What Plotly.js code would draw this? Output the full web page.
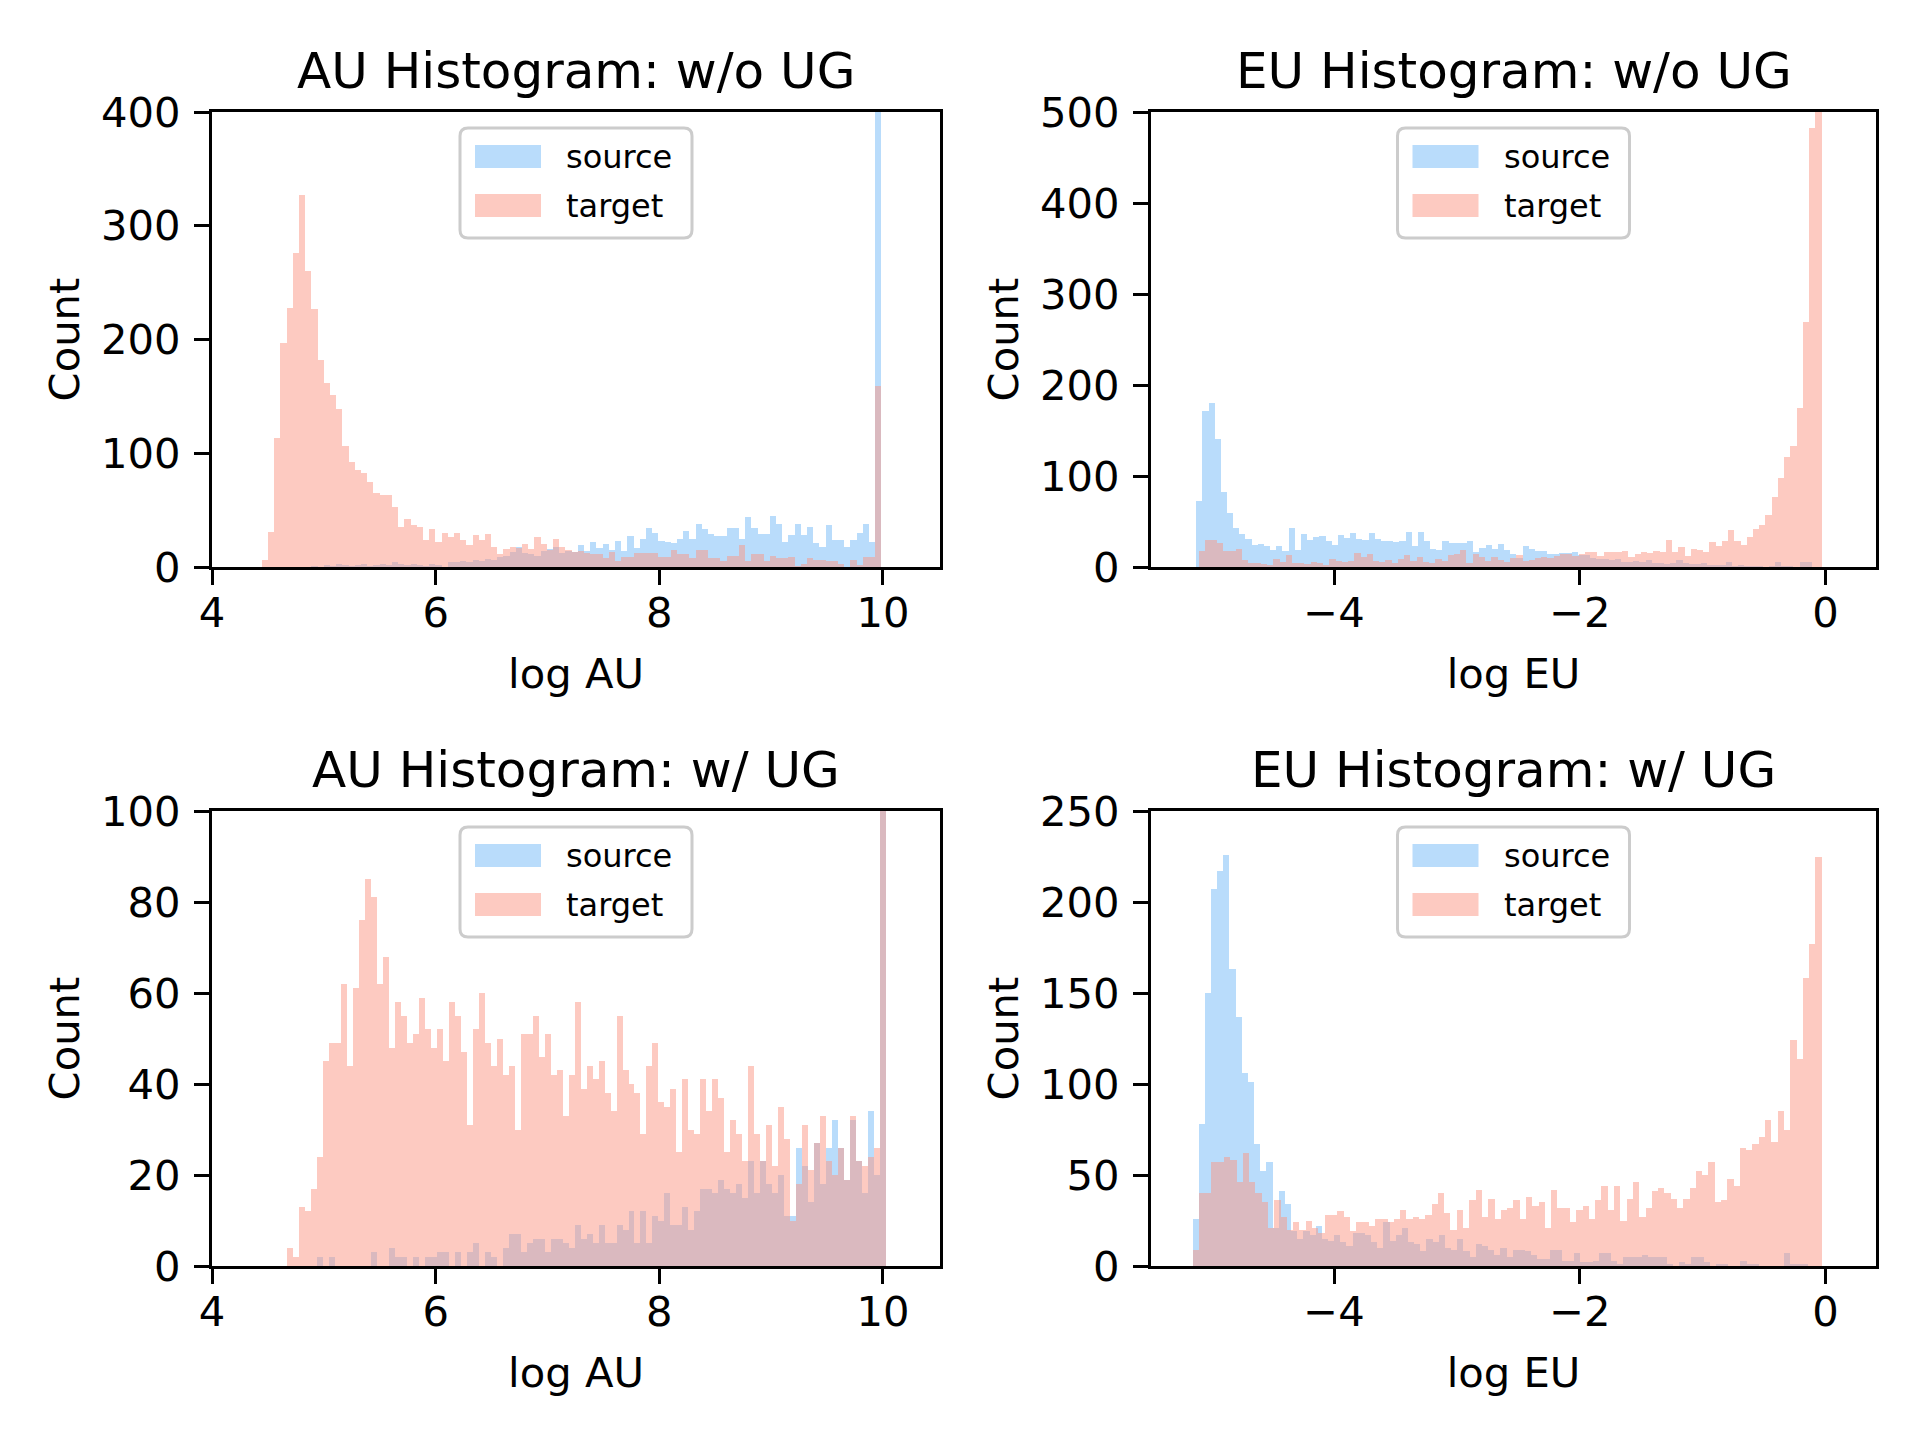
<!DOCTYPE html>
<html>
<head>
<meta charset="utf-8">
<script src="https://cdn.plot.ly/plotly-3.0.1.min.js"></script>
<style>
  html, body { margin: 0; padding: 0; background: #fff; }
  #chart { width: 1920px; height: 1440px; }
</style>
</head>
<body>
<div id="chart"></div>
<script>
// bin counts, 100 bins per histogram
const auWoSource = [
  0, 0, 0, 0, 0, 0, 0, 0, 1, 0, 2, 1, 3, 2, 1, 2, 3, 1, 2, 3,
  2, 4, 3, 2, 3, 2, 1, 3, 2, 0, 4, 4, 5, 4, 6, 5, 7, 6, 9, 10,
  13, 18, 12, 11, 10, 14, 16, 18, 12, 14, 13, 19, 14, 22, 17, 20, 15, 23, 14, 27,
  17, 25, 34, 30, 23, 22, 21, 25, 32, 25, 38, 33, 29, 27, 27, 34, 34, 25, 44, 34,
  29, 29, 45, 38, 22, 28, 38, 28, 35, 21, 18, 37, 24, 24, 18, 24, 30, 38, 22, 470
];
const auWoTarget = [
  6, 31, 113, 197, 228, 276, 327, 260, 227, 182, 162, 151, 139, 106, 92, 85, 83, 75, 65, 63,
  63, 53, 35, 42, 37, 35, 24, 33, 22, 30, 26, 30, 24, 19, 28, 24, 29, 18, 11, 16,
  18, 17, 20, 16, 26, 20, 15, 25, 18, 15, 13, 14, 12, 11, 11, 8, 13, 5, 9, 9,
  12, 12, 12, 12, 9, 9, 15, 11, 11, 8, 15, 15, 8, 8, 5, 10, 10, 19, 5, 11,
  11, 5, 10, 8, 8, 9, 1, 3, 8, 6, 6, 5, 5, 3, 0, 6, 2, 9, 9, 159
];

const euWoSource = [
  73, 171, 180, 141, 82, 59, 43, 36, 31, 24, 25, 23, 19, 23, 18, 43, 19, 36, 30, 33,
  34, 29, 24, 35, 32, 37, 31, 30, 37, 31, 29, 29, 28, 29, 38, 23, 39, 29, 20, 19,
  29, 26, 26, 26, 29, 17, 21, 24, 20, 25, 19, 14, 10, 23, 20, 18, 18, 14, 14, 15,
  15, 17, 13, 13, 10, 9, 9, 8, 9, 6, 5, 7, 5, 8, 4, 4, 3, 4, 8, 4,
  3, 3, 4, 2, 2, 2, 5, 1, 2, 1, 1, 1, 0, 1, 5, 1, 1, 0, 5, 5
];
const euWoTarget = [
  18, 30, 30, 26, 18, 18, 20, 8, 4, 4, 3, 2, 9, 6, 13, 4, 4, 3, 6, 4,
  2, 9, 7, 6, 7, 15, 11, 14, 7, 6, 8, 4, 9, 13, 7, 11, 6, 4, 9, 7,
  13, 14, 19, 4, 14, 11, 7, 11, 8, 6, 10, 13, 7, 8, 10, 11, 10, 12, 14, 14,
  12, 14, 17, 17, 12, 17, 16, 17, 18, 11, 14, 16, 15, 18, 17, 30, 17, 22, 12, 20,
  19, 17, 28, 23, 29, 41, 29, 24, 33, 42, 46, 57, 77, 98, 121, 133, 175, 269, 482, 520
];

const auWSource = [
  0, 0, 0, 0, 0, 2, 0, 2, 0, 0, 0, 0, 0, 0, 3, 0, 0, 4, 2, 2,
  0, 2, 0, 2, 2, 3, 3, 0, 3, 0, 3, 5, 0, 3, 2, 0, 4, 7, 7, 3,
  5, 6, 6, 3, 6, 6, 5, 4, 9, 6, 7, 5, 9, 5, 5, 9, 8, 12, 5, 12,
  5, 11, 10, 16, 9, 9, 13, 8, 12, 17, 17, 16, 19, 17, 16, 18, 15, 23, 16, 23,
  18, 16, 20, 11, 11, 26, 22, 14, 27, 18, 26, 32, 26, 19, 32, 23, 16, 34, 20, 130
];
const auWTarget = [
  4, 2, 13, 12, 17, 24, 45, 49, 49, 62, 44, 61, 76, 85, 81, 62, 68, 48, 58, 55,
  49, 51, 59, 52, 48, 52, 45, 58, 55, 47, 31, 52, 60, 49, 44, 50, 42, 44, 30, 51,
  51, 55, 46, 51, 42, 43, 33, 42, 58, 39, 44, 41, 45, 38, 34, 55, 43, 40, 38, 29,
  44, 49, 36, 35, 39, 25, 41, 30, 29, 41, 34, 41, 37, 25, 32, 29, 23, 44, 29, 23,
  31, 22, 35, 28, 10, 18, 31, 21, 27, 33, 23, 20, 26, 19, 33, 23, 22, 24, 26, 130
];

const euWSource = [
  26, 78, 150, 207, 217, 226, 163, 137, 106, 101, 67, 52, 57, 21, 41, 34, 19, 15, 19, 17,
  22, 15, 14, 17, 13, 11, 18, 18, 17, 13, 10, 24, 14, 17, 21, 13, 12, 8, 15, 13,
  17, 10, 9, 15, 8, 5, 12, 11, 9, 6, 10, 5, 9, 9, 8, 6, 4, 4, 9, 9,
  3, 3, 7, 2, 2, 3, 7, 7, 3, 1, 5, 5, 5, 6, 5, 5, 5, 1, 0, 2,
  1, 5, 5, 2, 0, 1, 1, 0, 0, 3, 1, 1, 0, 0, 0, 0, 7, 1, 1, 1
];
const euWTarget = [
  9, 40, 40, 57, 57, 60, 58, 46, 62, 46, 40, 35, 21, 36, 27, 20, 24, 20, 25, 21,
  18, 28, 28, 30, 27, 19, 24, 24, 22, 26, 26, 24, 26, 31, 26, 27, 26, 28, 34, 40,
  29, 20, 31, 21, 36, 42, 27, 37, 26, 31, 32, 36, 26, 38, 33, 35, 21, 42, 32, 32,
  24, 31, 33, 26, 36, 44, 31, 44, 25, 37, 46, 27, 32, 41, 43, 40, 37, 32, 37, 43,
  52, 50, 57, 35, 36, 48, 44, 65, 64, 67, 71, 80, 68, 85, 75, 124, 114, 158, 177, 225
];

// bin edges: [first edge, bin width] for each histogram
const auWoBins = { source: [4.446, 0.0554], target: [4.446, 0.0554] };
const euWoBins = { source: [-5.122, 0.0501], target: [-5.103, 0.0507] };
const auWBins = { source: [4.675, 0.0535], target: [4.675, 0.0535] };
const euWBins = { source: [-5.152, 0.0501], target: [-5.152, 0.0512] };

const panelTitles = ["AU Histogram: w/o UG", "EU Histogram: w/o UG", "AU Histogram: w/ UG", "EU Histogram: w/ UG"];
const xLabels = ["log AU", "log EU", "log AU", "log EU"];
const seriesNames = ["source", "target"];

const SOURCE_COLOR = "rgba(115, 185, 247, 0.5)";
const TARGET_COLOR = "rgba(251, 149, 131, 0.5)";
const FONT = "DejaVu Sans, sans-serif";

function binCenters(edges, count) {
  const start = edges[0];
  const width = edges[1];
  const centers = [];
  for (let i = 0; i < count; i++) {
    centers.push(start + (i + 0.5) * width);
  }
  return centers;
}

function histTraces(panel, source, target, bins) {
  const suffix = panel === 1 ? "" : String(panel);
  const common = {
    type: "bar",
    xaxis: "x" + suffix,
    yaxis: "y" + suffix,
    showlegend: false,
    hoverinfo: "x+y",
  };
  return [
    Object.assign({}, common, {
      name: seriesNames[0],
      x: binCenters(bins.source, source.length),
      y: source,
      width: bins.source[1],
      marker: { color: SOURCE_COLOR, line: { width: 0 } },
    }),
    Object.assign({}, common, {
      name: seriesNames[1],
      x: binCenters(bins.target, target.length),
      y: target,
      width: bins.target[1],
      marker: { color: TARGET_COLOR, line: { width: 0 } },
    }),
  ];
}

// axes boxes in page pixels, converted to paper fractions below
const W = 1920;
const H = 1440;
const colsPx = [[212, 940], [1151, 1876]];
const rowsPx = [[112, 567], [811, 1266]];

const px = (x) => x / W;
const py = (y) => 1 - y / H;

function xAxis(col, row, range, tickvals, label) {
  return {
    domain: [px(colsPx[col][0]), px(colsPx[col][1])],
    anchor: "y" + (row * 2 + col === 0 ? "" : row * 2 + col + 1),
    range,
    tickvals,
    showline: true,
    mirror: true,
    linecolor: "black",
    linewidth: 3.3,
    ticks: "outside",
    ticklen: 15,
    tickwidth: 3.3,
    tickcolor: "black",
    showgrid: false,
    zeroline: false,
    ticklabelstandoff: -8,
    tickfont: { family: FONT, size: 41.7, color: "black" },
    title: { text: label, font: { family: FONT, size: 41.7, color: "black" }, standoff: 23 },
  };
}

function yAxis(col, row, range, dtick) {
  return {
    domain: [py(rowsPx[row][1]), py(rowsPx[row][0])],
    anchor: "x" + (row * 2 + col === 0 ? "" : row * 2 + col + 1),
    range,
    dtick,
    tick0: 0,
    showline: true,
    mirror: true,
    linecolor: "black",
    linewidth: 3.3,
    ticks: "outside",
    ticklen: 15,
    tickwidth: 3.3,
    tickcolor: "black",
    showgrid: false,
    zeroline: false,
    ticklabelstandoff: 5,
    tickfont: { family: FONT, size: 41.7, color: "black" },
    title: { text: "Count", font: { family: FONT, size: 41.7, color: "black" }, standoff: 9 },
  };
}

// matplotlib style legend (rounded frame, wide patches) drawn as shapes and text
function legendParts(col, row) {
  const cx = (colsPx[col][0] + colsPx[col][1]) / 2;
  const top = rowsPx[row][0];
  const left = cx - 116;
  const right = cx + 116;
  const y0 = top + 16;
  const y1 = top + 126;
  const r = 8;
  const framePath =
    "M" + px(left + r) + "," + py(y0) +
    " L" + px(right - r) + "," + py(y0) +
    " Q" + px(right) + "," + py(y0) + " " + px(right) + "," + py(y0 + r) +
    " L" + px(right) + "," + py(y1 - r) +
    " Q" + px(right) + "," + py(y1) + " " + px(right - r) + "," + py(y1) +
    " L" + px(left + r) + "," + py(y1) +
    " Q" + px(left) + "," + py(y1) + " " + px(left) + "," + py(y1 - r) +
    " L" + px(left) + "," + py(y0 + r) +
    " Q" + px(left) + "," + py(y0) + " " + px(left + r) + "," + py(y0) + " Z";
  const shapes = [
    {
      type: "path",
      xref: "paper",
      yref: "paper",
      path: framePath,
      fillcolor: "rgba(255,255,255,0.8)",
      line: { color: "#cccccc", width: 3 },
      layer: "above",
    },
  ];
  const annotations = [];
  const colors = [SOURCE_COLOR, TARGET_COLOR];
  const rowsOff = [[33, 56], [82, 105]];
  seriesNames.forEach((name, i) => {
    shapes.push({
      type: "rect",
      xref: "paper",
      yref: "paper",
      x0: px(left + 15),
      x1: px(left + 81),
      y0: py(top + rowsOff[i][1]),
      y1: py(top + rowsOff[i][0]),
      fillcolor: colors[i],
      line: { width: 0 },
      layer: "above",
    });
    annotations.push({
      text: name,
      xref: "paper",
      yref: "paper",
      x: px(left + 104),
      y: py(top + (rowsOff[i][0] + rowsOff[i][1]) / 2),
      xanchor: "left",
      yanchor: "middle",
      showarrow: false,
      font: { family: FONT, size: 32, color: "black" },
    });
  });
  return { shapes, annotations };
}

function titleAnnotation(col, row, text) {
  return {
    text,
    xref: "paper",
    yref: "paper",
    x: px((colsPx[col][0] + colsPx[col][1]) / 2),
    y: py(rowsPx[row][0] - 41),
    xanchor: "center",
    yanchor: "middle",
    showarrow: false,
    font: { family: FONT, size: 50, color: "black" },
  };
}

const traces = [].concat(
  histTraces(1, auWoSource, auWoTarget, auWoBins),
  histTraces(2, euWoSource, euWoTarget, euWoBins),
  histTraces(3, auWSource, auWTarget, auWBins),
  histTraces(4, euWSource, euWTarget, euWBins)
);

const shapes = [];
const annotations = [];
[[0, 0], [1, 0], [0, 1], [1, 1]].forEach(([col, row], i) => {
  const parts = legendParts(col, row);
  shapes.push(...parts.shapes);
  annotations.push(...parts.annotations);
  annotations.push(titleAnnotation(col, row, panelTitles[i]));
});

const layout = {
  width: W,
  height: H,
  margin: { l: 0, r: 0, t: 0, b: 0 },
  paper_bgcolor: "white",
  plot_bgcolor: "white",
  barmode: "overlay",
  bargap: 0,
  showlegend: false,
  font: { family: FONT, color: "black" },
  xaxis: xAxis(0, 0, [4, 10.51], [4, 6, 8, 10], xLabels[0]),
  yaxis: yAxis(0, 0, [0, 400], 100),
  xaxis2: xAxis(1, 0, [-5.49, 0.41], [-4, -2, 0], xLabels[1]),
  yaxis2: yAxis(1, 0, [0, 500], 100),
  xaxis3: xAxis(0, 1, [4, 10.51], [4, 6, 8, 10], xLabels[2]),
  yaxis3: yAxis(0, 1, [0, 100], 20),
  xaxis4: xAxis(1, 1, [-5.49, 0.41], [-4, -2, 0], xLabels[3]),
  yaxis4: yAxis(1, 1, [0, 250], 50),
  shapes,
  annotations,
};

Plotly.newPlot("chart", traces, layout, { displayModeBar: false, responsive: false });
</script>
</body>
</html>
